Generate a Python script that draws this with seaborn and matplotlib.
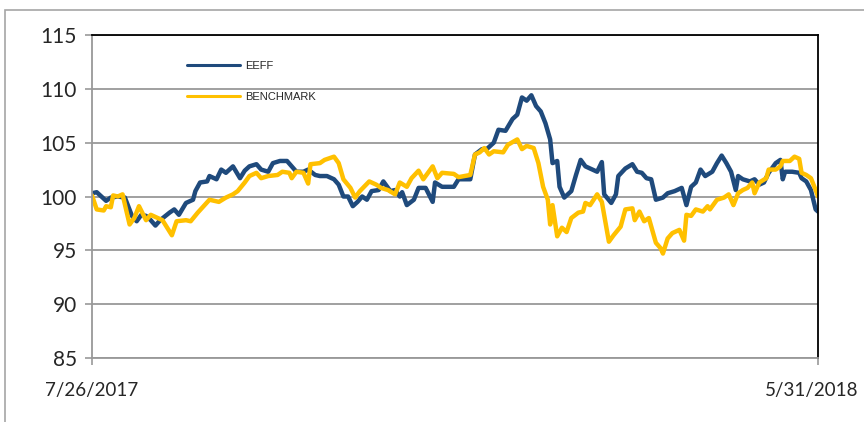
import pandas as pd
import seaborn as sns
import matplotlib.pyplot as plt
from matplotlib.patches import Rectangle
from matplotlib.lines import Line2D
from matplotlib.transforms import ScaledTranslation

# days since 7/26/2017 and index values
eeff_days = [0, 2, 6, 8, 11, 14, 17, 19, 21, 23, 25, 27, 29, 33, 35, 37, 40, 43, 44, 46,
             49, 50, 53, 55, 57, 60, 63, 65, 67, 70, 72, 75, 77, 80, 83, 85, 87, 90, 92, 95,
             97, 100, 103, 105, 107, 109, 111, 113, 115, 117, 119, 122, 124, 127, 129, 131, 132, 134, 137, 139,
             142, 145, 146, 149, 154, 156, 161, 163, 166, 168, 171, 173, 176, 179, 181, 183, 185, 187, 189, 191,
             193, 195, 196, 198, 199, 201, 204, 206, 208, 210, 213, 215, 217, 218, 221, 223, 224, 227, 230, 232,
             234, 236, 238, 240, 243, 245, 248, 251, 253, 255, 257, 259, 261, 264, 266, 268, 270, 272, 274, 275,
             277, 280, 282, 284, 286, 288, 291, 293, 294, 295, 298, 301, 302, 304, 306, 308, 309]
eeff_vals = [100.3, 100.4, 99.6, 99.9, 100.0, 99.9, 98.2, 97.7, 98.3, 98.2, 97.8, 97.3, 97.8, 98.5, 98.8, 98.3, 99.4, 99.7, 100.5, 101.3,
             101.4, 101.9, 101.6, 102.5, 102.2, 102.8, 101.7, 102.4, 102.8, 103.0, 102.5, 102.3, 103.1, 103.3, 103.3, 102.8, 102.3, 102.3, 102.5, 102.0,
             101.9, 101.9, 101.6, 101.1, 100.0, 100.0, 99.1, 99.5, 100.0, 99.7, 100.5, 100.6, 101.4, 100.5, 100.6, 100.0, 100.4, 99.2, 99.7, 100.8,
             100.8, 99.5, 101.3, 100.9, 100.9, 101.6, 101.6, 103.9, 104.4, 104.4, 105.0, 106.2, 106.1, 107.2, 107.6, 109.2, 108.9, 109.4, 108.4, 107.9,
             106.8, 105.3, 103.1, 103.3, 100.9, 99.9, 100.5, 102.0, 103.4, 102.8, 102.5, 102.3, 103.2, 100.2, 99.4, 100.2, 101.9, 102.6, 103.0, 102.3,
             102.2, 101.7, 101.6, 99.7, 99.9, 100.3, 100.5, 100.8, 99.2, 100.9, 101.3, 102.5, 101.9, 102.3, 103.1, 103.8, 103.1, 102.3, 100.6, 101.9,
             101.6, 101.4, 101.6, 101.1, 101.3, 102.2, 103.1, 103.4, 101.6, 102.3, 102.3, 102.2, 101.7, 101.4, 100.6, 98.8, 98.6]

bench_days = [0, 2, 5, 6, 8, 9, 11, 13, 16, 18, 20, 23, 25, 28, 30, 34, 36, 40, 42, 45,
              50, 54, 57, 60, 62, 65, 67, 70, 72, 75, 79, 81, 84, 85, 87, 90, 92, 93, 97, 99,
              103, 105, 107, 110, 112, 114, 118, 121, 123, 126, 129, 131, 134, 136, 139, 141, 145, 147, 149, 154,
              156, 161, 163, 165, 167, 169, 171, 175, 177, 181, 183, 185, 188, 190, 192, 194, 195, 196, 198, 200,
              202, 204, 207, 209, 210, 212, 215, 217, 220, 222, 225, 227, 230, 231, 233, 235, 237, 240, 242, 243,
              245, 247, 250, 252, 253, 255, 257, 260, 262, 263, 266, 269, 271, 273, 275, 277, 279, 281, 282, 284,
              287, 288, 291, 293, 294, 297, 299, 301, 302, 304, 306, 308, 309]
bench_vals = [100.1, 98.8, 98.7, 99.1, 99.0, 100.1, 100.0, 100.2, 97.4, 98.0, 99.1, 97.8, 98.3, 98.0, 97.8, 96.4, 97.7, 97.8, 97.7, 98.5,
              99.7, 99.5, 99.9, 100.2, 100.5, 101.3, 101.9, 102.2, 101.7, 101.9, 102.0, 102.3, 102.2, 101.7, 102.3, 102.2, 101.2, 103.0, 103.1, 103.4,
              103.7, 103.1, 101.6, 100.8, 99.9, 100.5, 101.4, 101.1, 100.8, 100.6, 100.2, 101.3, 100.9, 101.7, 102.4, 101.6, 102.8, 101.7, 102.2, 102.1,
              101.8, 102.0, 103.9, 104.1, 104.5, 103.9, 104.2, 104.1, 104.8, 105.3, 104.4, 104.7, 104.5, 103.1, 100.9, 99.7, 97.4, 99.2, 96.3, 97.1,
              96.7, 98.0, 98.5, 98.6, 99.4, 99.2, 100.2, 99.5, 95.8, 96.4, 97.2, 98.8, 98.9, 97.8, 98.6, 97.7, 98.0, 95.7, 95.2, 94.7,
              96.1, 96.6, 96.9, 95.9, 98.3, 98.2, 98.8, 98.6, 99.1, 98.8, 99.7, 99.9, 100.2, 99.2, 100.3, 100.6, 100.8, 101.3, 100.3, 101.3,
              101.7, 102.5, 102.5, 102.8, 103.3, 103.3, 103.7, 103.5, 102.2, 102.0, 101.7, 100.6, 100.0]

series_names = ['EEFF', 'BENCHMARK']
start = pd.Timestamp('2017-07-26')
end = pd.Timestamp('2018-05-31')

df = pd.concat([
    pd.DataFrame({'date': start + pd.to_timedelta(eeff_days, unit='D'), 'value': eeff_vals, 'series': 'EEFF'}),
    pd.DataFrame({'date': start + pd.to_timedelta(bench_days, unit='D'), 'value': bench_vals, 'series': 'BENCHMARK'}),
], ignore_index=True)

colors = {'EEFF': '#1F4A7C', 'BENCHMARK': '#FFC000'}

sns.set_style('white')
plt.rcParams['font.family'] = ['Lato', 'DejaVu Sans']

fig = plt.figure(figsize=(8.64, 4.22), dpi=100)
ax = fig.add_axes([92 / 864, 1 - 358 / 422, 726 / 864, 323 / 422])

# outer chart frame (only top and left edges visible)
fig.patches.append(Rectangle((5 / 864, -0.05), 1.0, 1 - 10 / 422 + 0.05, transform=fig.transFigure,
                             fill=False, edgecolor='#A6A6A6', linewidth=1.2))

sns.lineplot(data=df, x='date', y='value', hue='series', hue_order=series_names, palette=colors,
             estimator=None, sort=True, linewidth=3.2, ax=ax, legend=False)

ax.set_xlim(start, end)
ax.set_ylim(85, 115)
ax.set_yticks(range(85, 116, 5))
ax.set_xticks([start, end])
ax.set_xticklabels(['7/26/2017', '5/31/2018'])
ax.set_xlabel('')
ax.set_ylabel('')
ax.yaxis.grid(True, color='#999999', linewidth=1.3)
ax.set_axisbelow(True)

for side in ['left', 'bottom']:
    ax.spines[side].set_color('#999999')
    ax.spines[side].set_linewidth(1.3)
for side in ['top', 'right']:
    ax.spines[side].set_color('black')
    ax.spines[side].set_linewidth(1.3)

ax.tick_params(axis='y', length=5, width=1.2, color='#999999', labelsize=15, pad=6)
ax.tick_params(axis='x', length=5, width=1.2, color='#999999', labelsize=13.5, pad=12)
ax.tick_params(left=True, bottom=True)

# keep the last date label inside the figure, as in the original
last_label = ax.get_xticklabels()[-1]
last_label.set_transform(last_label.get_transform() + ScaledTranslation(-6 / 100, 0, fig.dpi_scale_trans))

handles = [Line2D([0], [0], color=colors[s], linewidth=2.2) for s in series_names]
ax.legend(handles, series_names, loc='upper left', bbox_to_anchor=(0.131, 0.92), frameon=False,
          borderaxespad=0, borderpad=0, handlelength=4.8, handletextpad=0.4, labelspacing=1.9,
          prop={'family': 'Liberation Sans', 'size': 8})

fig.savefig('out.png', dpi=100)
